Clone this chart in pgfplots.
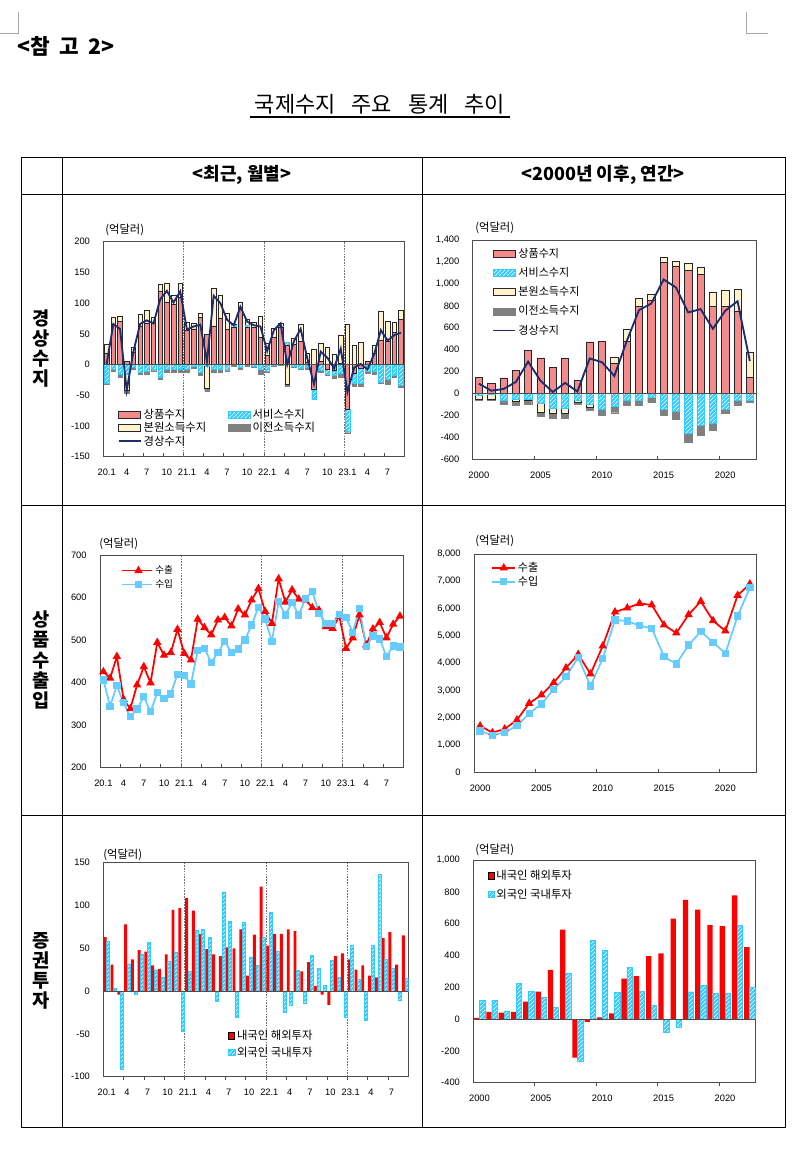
\documentclass[border=0pt]{standalone}
\usepackage{pgfplots}
\pgfplotsset{compat=1.18}
\usepackage{pgfplotstable}
\usepackage{fontspec}
\setmainfont{Liberation Sans}
\newfontfamily\kr{Noto Sans CJK KR}
\usetikzlibrary{patterns}

\definecolor{goodsc}{HTML}{F28C8C}
\definecolor{primc}{HTML}{FFF2CC}
\definecolor{secc}{HTML}{808080}
\definecolor{svcc}{HTML}{33CCFF}
\definecolor{calc}{HTML}{1F2C6E}
\definecolor{expc}{HTML}{FF0000}
\definecolor{impc}{HTML}{66CCFF}
\definecolor{framec}{HTML}{4D4D4D}

% monthly current account: goods, services, primary income, secondary income, current account
\pgfplotstableread{
m g s p t ca
0 18 -30 15 -2 1
1 66 -7 11 -4 66
2 70 -15 9 -6 58
3 5 -15 -27 -5 -42
4 20 -5 8 -2 21
5 62 -13 20 -3 66
6 68 -10 20 -6 72
7 68 -7 9 -3 67
8 119 -20 11 -4 106
9 102 -8 30 -4 120
10 98 -8 15 -4 101
11 110 -8 22 -5 119
12 56 -7 13 -5 57
13 58 -2 10 -4 62
14 77 -12 6 -6 65
15 49 -2 -36 -6 5
16 63 -7 61 -5 112
17 76 -8 37 -5 100
18 57 -7 26 -3 73
19 61 3 2 -2 64
20 94 -4 8 -4 94
21 60 4 9 -3 70
22 60 -2 9 -3 64
23 44 -8 34 -8 62
24 15 -11 20 -2 22
25 45 -1 14 -2 56
26 60 2 6 -1 67
27 32 4 -32 -4 0
28 33 -3 10 -2 38
29 38 -6 28 -2 58
30 4 -4 14 -4 10
31 -41 -15 25 -1 -32
32 5 -9 29 -4 21
33 -7 -8 28 -2 11
34 -10 -7 16 -5 -6
35 2 -14 45 -7 26
36 -72 -37 66 -2 -45
37 -14 -16 31 -6 -5
38 -6 -24 37 -6 1
39 6 -11 0 -3 -8
40 18 -11 14 -4 17
41 40 -28 47 -3 56
42 38 -24 33 -8 39
43 52 -18 17 -3 48
44 74 -33 15 -4 52
}\cam

% annual current account 2000-2022
\pgfplotstableread{
y g s p t ca
0 148 -12 -38 -8 90
1 90 -8 -47 -9 26
2 142 -58 -8 -35 41
3 214 -55 -15 -39 105
4 390 -53 -8 -38 291
5 325 -90 -85 -33 117
6 240 -135 -45 -46 14
7 320 -135 -43 -45 97
8 117 -59 -24 -16 18
9 470 -98 -28 -24 320
10 475 -140 5 -55 285
11 280 -117 55 -58 160
12 478 -59 110 -52 477
13 795 -59 76 -52 760
14 852 -35 52 -48 821
15 1196 -147 46 -55 1040
16 1163 -165 39 -70 967
17 1123 -366 61 -79 739
18 1086 -293 62 -85 770
19 798 -272 125 -61 590
20 798 -144 140 -40 754
21 753 -59 194 -46 842
22 145 -59 234 -24 296
}\caa

% monthly exports / imports
\pgfplotstableread{
m ex im
0 425 406
1 410 344
2 461 392
3 360 352
4 338 319
5 394 337
6 437 366
7 399 331
8 494 376
9 464 362
10 470 373
11 525 419
12 468 416
13 453 396
14 549 475
15 529 480
16 512 447
17 547 470
18 553 497
19 533 470
20 573 479
21 559 500
22 594 535
23 621 577
24 567 549
25 539 496
26 644 590
27 589 559
28 618 588
29 596 559
30 594 598
31 576 614
32 570 563
33 531 539
34 527 538
35 556 560
36 480 553
37 505 518
38 559 574
39 488 484
40 526 509
41 541 502
42 505 461
43 537 486
44 556 483
}\trm

% annual exports / imports
\pgfplotstableread{
y ex im
0 1698 1515
1 1453 1356
2 1588 1466
3 1918 1710
4 2528 2162
5 2834 2504
6 3285 3041
7 3823 3505
8 4324 4214
9 3603 3163
10 4629 4177
11 5875 5582
12 6021 5545
13 6192 5374
14 6131 5276
15 5398 4238
16 5105 3969
17 5777 4666
18 6266 5154
19 5557 4763
20 5179 4360
21 6486 5728
22 6901 6766
}\tra

% monthly portfolio investment: residents abroad (a), foreigners domestic (f)
\pgfplotstableread{
m a f
0 63 58
1 31 3
2 -4 -91
3 78 32
4 37 -4
5 48 43
6 46 57
7 30 25
8 26 16
9 43 35
10 95 45
11 97 -47
12 109 23
13 94 71
14 67 72
15 49 63
16 43 -12
17 41 116
18 51 82
19 50 -31
20 72 81
21 18 40
22 66 30
23 122 63
24 53 92
25 67 47
26 67 -25
27 72 -17
28 70 24
29 23 -14
30 34 42
31 6 27
32 -4 7
33 -16 36
34 41 16
35 44 -31
36 37 54
37 25 14
38 30 -34
39 18 54
40 16 136
41 62 37
42 69 27
43 31 -11
44 65 15
}\sim

% annual portfolio investment
\pgfplotstableread{
y a f
0 8 119
1 46 119
2 40 52
3 46 224
4 109 176
5 172 136
6 310 73
7 562 291
8 -243 -264
9 -17 497
10 10 434
11 36 166
12 254 325
13 270 176
14 396 86
15 413 -84
16 631 -48
17 750 172
18 688 210
19 591 163
20 585 163
21 778 589
22 453 201
}\sia

\tikzset{
  yrline/.style={black!55, dash pattern=on 1.2pt off 0.9pt, line width=0.45pt},
  zline/.style={framec, line width=0.6pt},
}
\pgfplotsset{
  chart/.style={scale only axis, anchor=south west,
    axis line style={draw=framec, line width=0.6pt},
    tick label style={font=\fontsize{7}{8}\selectfont},
    /pgf/number format/assume math mode=true,
    /pgf/number format/1000 sep={,},
    tick pos=left, major tick length=0pt,
    xticklabel style={yshift=-6pt}, yticklabel style={xshift=-6.5pt},
    extra x tick labels={},
    extra x tick style={major tick length=2.5pt, tick style={draw=framec, line width=0.5pt}}},
  over/.style={scale only axis, anchor=south west, hide axis},
  barleg/.style={legend image code/.code={\draw[##1] (0pt,-2.6pt) rectangle (16.5pt,2.6pt);}},
  sqleg/.style={legend image code/.code={\draw[##1] (0pt,-2.3pt) rectangle (4.6pt,2.3pt);}},
  gbar/.style={fill=goodsc, draw=black!85, line width=0.4pt, barleg},
  sbar/.style={fill=svcc, draw=svcc, line width=0.3pt, postaction={pattern=north east lines, pattern color=white}, barleg},
  pbar/.style={fill=primc, draw=black!85, line width=0.4pt, barleg},
  tbar/.style={fill=secc, draw=secc, line width=0.3pt, barleg},
  posp/.style={y filter/.expression={max(y,0)}},
  negp/.style={y filter/.expression={min(y,0)}},
  caline/.style={calc, line width=1.4pt, no marks, legend image code/.code={\draw[##1] (0pt,0pt) -- (16.5pt,0pt);}},
  legbase/.style={legend style={draw=none, fill=none, inner sep=0pt, outer sep=0pt,
    nodes={inner ysep=0pt, inner xsep=1.5pt}}, legend cell align=left},
}

\begin{document}
\begin{tikzpicture}[x=0.75pt,y=-0.75pt]
\useasboundingbox (0,0) rectangle (796,1155);

% page furniture
\draw[black!35, line width=0.5pt] (18,12) -- (18,33) -- (0,33);
\draw[black!35, line width=0.5pt] (746,12) -- (746,33) -- (768,33);
\node[anchor=west, inner sep=0pt, font=\kr\bfseries\fontsize{16}{18}\selectfont] at (17,46) {<참\hspace{7pt}고\hspace{7pt}2>};
\node[font=\kr\fontsize{16.5}{18}\selectfont] at (380,104) {국제수지\hspace{12pt}주요\hspace{12pt}통계\hspace{12pt}추이};
\draw[line width=0.8pt] (250,117) -- (510,117);

% table
\draw[line width=0.75pt] (21,157.5) rectangle (785,1127);
\draw[line width=0.75pt] (21,194.5) -- (785,194.5);
\draw[line width=0.75pt] (21,505.5) -- (785,505.5);
\draw[line width=0.75pt] (21,815.5) -- (785,815.5);
\draw[line width=0.75pt] (62,157.5) -- (62,1127);
\draw[line width=0.75pt] (422,157.5) -- (422,1127);
\node[font=\kr\bfseries\fontsize{13.5}{15}\selectfont] at (242,175) {<최근, 월별>};
\node[font=\kr\bfseries\fontsize{13.5}{15}\selectfont] at (603,175) {<2000년 이후, 연간>};
\node[align=center, font=\kr\bfseries\fontsize{14}{15}\selectfont] at (41.5,349) {경\\상\\수\\지};
\node[align=center, font=\kr\bfseries\fontsize{14}{15.2}\selectfont] at (41.5,660) {상\\품\\수\\출\\입};
\node[align=center, font=\kr\bfseries\fontsize{14}{15}\selectfont] at (41.5,971) {증\\권\\투\\자};

% unit labels
\foreach \ux/\uy in {105/230, 475/228, 99/544, 475/541, 103/855, 475/850}
  \node[anchor=west, inner sep=0pt, font=\kr\fontsize{8.5}{9}\selectfont] at (\ux,\uy) {(억달러)};

%% ---------- chart 1: monthly current account ----------
\begin{axis}[chart, at={(77.475pt,-342.525pt)}, width=225.75pt, height=161.25pt,
  xmin=-0.5, xmax=44.5, ymin=-150, ymax=200, ytick={-150,-100,...,200},
  xtick={0,3,...,42}, xticklabels={20.1,4,7,10,21.1,4,7,10,22.1,4,7,10,23.1,4,7},
  extra x ticks={2.5,5.5,...,41.5},
  ybar stacked, bar width=3.4pt]
  \addplot[gbar, posp] table[x=m,y=g]{\cam};
  \addplot[sbar, posp] table[x=m,y=s]{\cam};
  \addplot[pbar, posp] table[x=m,y=p]{\cam};
  \addplot[tbar, posp] table[x=m,y=t]{\cam};
\end{axis}
\begin{axis}[over, at={(77.475pt,-342.525pt)}, width=225.75pt, height=161.25pt,
  xmin=-0.5, xmax=44.5, ymin=-150, ymax=200, ybar stacked, bar width=3.4pt]
  \addplot[gbar, negp] table[x=m,y=g]{\cam};
  \addplot[sbar, negp] table[x=m,y=s]{\cam};
  \addplot[pbar, negp] table[x=m,y=p]{\cam};
  \addplot[tbar, negp] table[x=m,y=t]{\cam};
\end{axis}
\begin{axis}[over, at={(77.475pt,-342.525pt)}, width=225.75pt, height=161.25pt,
  xmin=-0.5, xmax=44.5, ymin=-150, ymax=200, legbase, legend columns=2,
  legend style={at={(0.048,0.222)}, anchor=north west, font=\kr\fontsize{8.5}{9}\selectfont,
    row sep=1.5pt, /tikz/every even column/.append style={column sep=15pt}}]
  \draw[yrline] (axis cs:11.5,-150) -- (axis cs:11.5,200);
  \draw[yrline] (axis cs:23.5,-150) -- (axis cs:23.5,200);
  \draw[yrline] (axis cs:35.5,-150) -- (axis cs:35.5,200);
  \draw[zline] (axis cs:-0.5,0) -- (axis cs:44.5,0);
  \addlegendimage{gbar}\addlegendentry{상품수지}
  \addlegendimage{sbar}\addlegendentry{서비스수지}
  \addlegendimage{pbar}\addlegendentry{본원소득수지}
  \addlegendimage{tbar}\addlegendentry{이전소득수지}
  \addlegendimage{caline}\addlegendentry{경상수지}
  \addplot[caline, forget plot] table[x=m,y=ca]{\cam};
\end{axis}

%% ---------- chart 2: annual current account ----------
\begin{axis}[chart, at={(354.525pt,-344.475pt)}, width=212.475pt, height=164.475pt,
  xmin=-0.5, xmax=22.5, ymin=-600, ymax=1400, ytick={-600,-400,...,1400},
  xtick={0,5,10,15,20}, xticklabels={2000,2005,2010,2015,2020},
  extra x ticks={4.5,9.5,14.5,19.5},
  ybar stacked, bar width=5.4pt]
  \addplot[gbar, posp] table[x=y,y=g]{\caa};
  \addplot[sbar, posp] table[x=y,y=s]{\caa};
  \addplot[pbar, posp] table[x=y,y=p]{\caa};
  \addplot[tbar, posp] table[x=y,y=t]{\caa};
\end{axis}
\begin{axis}[over, at={(354.525pt,-344.475pt)}, width=212.475pt, height=164.475pt,
  xmin=-0.5, xmax=22.5, ymin=-600, ymax=1400, ybar stacked, bar width=5.4pt]
  \addplot[gbar, negp] table[x=y,y=g]{\caa};
  \addplot[sbar, negp] table[x=y,y=s]{\caa};
  \addplot[pbar, negp] table[x=y,y=p]{\caa};
  \addplot[tbar, negp] table[x=y,y=t]{\caa};
\end{axis}
\begin{axis}[over, at={(354.525pt,-344.475pt)}, width=212.475pt, height=164.475pt,
  xmin=-0.5, xmax=22.5, ymin=-600, ymax=1400, legbase,
  legend style={at={(0.07,0.962)}, anchor=north west, font=\kr\fontsize{8.3}{9}\selectfont, row sep=6pt}]
  \draw[zline] (axis cs:-0.5,0) -- (axis cs:22.5,0);
  \addlegendimage{gbar}\addlegendentry{상품수지}
  \addlegendimage{sbar}\addlegendentry{서비스수지}
  \addlegendimage{pbar}\addlegendentry{본원소득수지}
  \addlegendimage{tbar}\addlegendentry{이전소득수지}
  \addlegendimage{caline}\addlegendentry{경상수지}
  \addplot[caline, forget plot] table[x=y,y=ca]{\caa};
\end{axis}

%% ---------- chart 3: monthly exports / imports ----------
\begin{axis}[chart, at={(75pt,-575.475pt)}, width=227.475pt, height=159.225pt,
  xmin=-0.5, xmax=44.5, ymin=200, ymax=700, ytick={200,300,...,700},
  xtick={0,3,...,42}, xticklabels={20.1,4,7,10,21.1,4,7,10,22.1,4,7,10,23.1,4,7},
  extra x ticks={2.5,5.5,...,41.5}, legbase,
  legend style={at={(0.069,0.95)}, anchor=north west, font=\kr\fontsize{7.2}{8}\selectfont, row sep=3pt},
  legend image code/.code={\draw[mark repeat=2,mark phase=2,#1] plot coordinates {(0pt,0pt) (12.5pt,0pt) (23pt,0pt)};}]
  \draw[yrline] (axis cs:11.5,200) -- (axis cs:11.5,700);
  \draw[yrline] (axis cs:23.5,200) -- (axis cs:23.5,700);
  \draw[yrline] (axis cs:35.5,200) -- (axis cs:35.5,700);
  \addplot[expc, line width=1.3pt, mark=triangle*, mark size=2.4pt, mark options={solid, fill=expc}] table[x=m,y=ex]{\trm};
  \addlegendentry{수출}
  \addplot[impc, line width=1.3pt, mark=square*, mark size=2.1pt, mark options={solid, fill=impc}] table[x=m,y=im]{\trm};
  \addlegendentry{수입}
\end{axis}

%% ---------- chart 4: annual exports / imports ----------
\begin{axis}[chart, at={(355.5pt,-579.225pt)}, width=211.5pt, height=163.725pt,
  xmin=-0.5, xmax=22.5, ymin=0, ymax=8000, ytick={0,1000,...,8000},
  xtick={0,5,10,15,20}, xticklabels={2000,2005,2010,2015,2020},
  extra x ticks={4.5,9.5,14.5,19.5}, legbase,
  legend style={at={(0.06,0.962)}, anchor=north west, font=\kr\fontsize{8.3}{9}\selectfont, row sep=2pt},
  legend image code/.code={\draw[mark repeat=2,mark phase=2,#1] plot coordinates {(0pt,0pt) (9pt,0pt) (17.5pt,0pt)};}]
  \addplot[expc, line width=1.3pt, mark=triangle*, mark size=2.4pt, mark options={solid, fill=expc}] table[x=y,y=ex]{\tra};
  \addlegendentry{수출}
  \addplot[impc, line width=1.3pt, mark=square*, mark size=2.1pt, mark options={solid, fill=impc}] table[x=y,y=im]{\tra};
  \addlegendentry{수입}
\end{axis}

%% ---------- chart 5: monthly portfolio investment ----------
\begin{axis}[chart, at={(77.475pt,-807.525pt)}, width=228.75pt, height=160.5pt,
  xmin=-0.5, xmax=44.5, ymin=-100, ymax=150, ytick={-100,-50,...,150},
  xtick={0,3,...,42}, xticklabels={20.1,4,7,10,21.1,4,7,10,22.1,4,7,10,23.1,4,7},
  extra x ticks={2.5,5.5,...,41.5},
  extra x tick style={major tick length=2.5pt, tick align=outside, tick style={draw=framec, line width=0.5pt}},
  ybar=0pt, bar width=2.2pt, legbase,
  legend style={at={(0.41,0.218)}, anchor=north west, font=\kr\fontsize{8.5}{9}\selectfont, row sep=4pt}]
  \draw[yrline] (axis cs:11.5,-100) -- (axis cs:11.5,150);
  \draw[yrline] (axis cs:23.5,-100) -- (axis cs:23.5,150);
  \draw[yrline] (axis cs:35.5,-100) -- (axis cs:35.5,150);
  \addplot[fill=expc, draw=none, sqleg] table[x=m,y=a]{\sim};
  \addlegendentry{내국인 해외투자}
  \addplot[fill=svcc, draw=svcc, line width=0.3pt, postaction={pattern=north east lines, pattern color=white}, sqleg] table[x=m,y=f]{\sim};
  \addlegendentry{외국인 국내투자}
  \draw[zline] (axis cs:-0.5,0) -- (axis cs:44.5,0);
\end{axis}

%% ---------- chart 6: annual portfolio investment ----------
\begin{axis}[chart, at={(354.975pt,-812.025pt)}, width=211.8pt, height=167.025pt,
  xmin=-0.5, xmax=22.5, ymin=-400, ymax=1000, ytick={-400,-200,...,1000},
  xtick={0,5,10,15,20}, xticklabels={2000,2005,2010,2015,2020},
  extra x ticks={4.5,9.5,14.5,19.5},
  ybar=0pt, bar width=4pt, legbase,
  legend style={at={(0.051,0.955)}, anchor=north west, font=\kr\fontsize{8.5}{9}\selectfont, row sep=5.5pt}]
  \addplot[fill=expc, draw=none, sqleg] table[x=y,y=a]{\sia};
  \addlegendentry{내국인 해외투자}
  \addplot[fill=svcc, draw=svcc, line width=0.3pt, postaction={pattern=north east lines, pattern color=white}, sqleg] table[x=y,y=f]{\sia};
  \addlegendentry{외국인 국내투자}
  \draw[zline] (axis cs:-0.5,0) -- (axis cs:22.5,0);
\end{axis}
\end{tikzpicture}
\end{document}
